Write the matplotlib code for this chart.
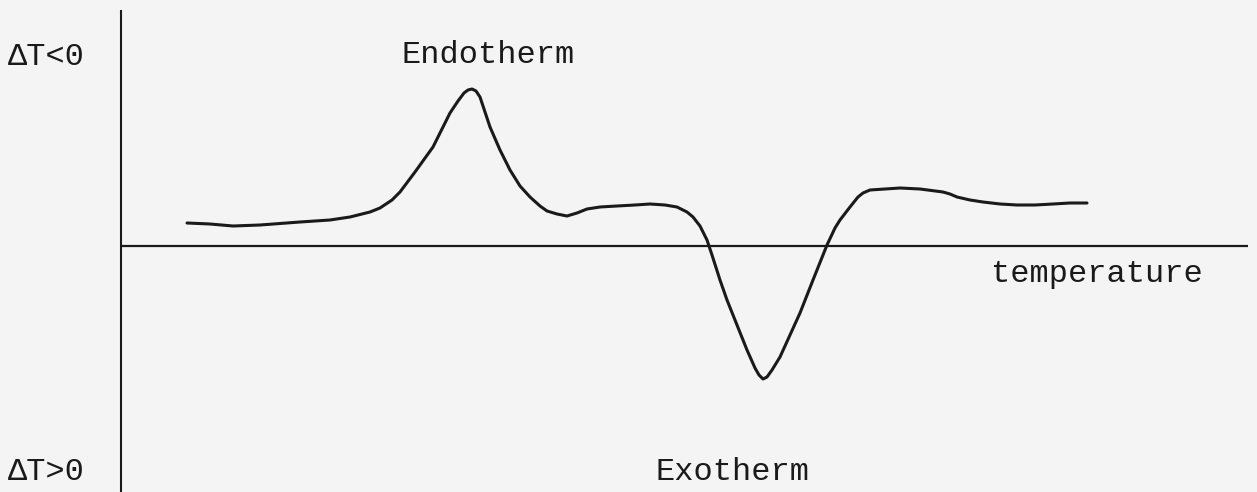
import numpy as np
import matplotlib
matplotlib.use("Agg")
import matplotlib.pyplot as plt

# DTA trace (x: temperature, arbitrary units; y: signal above baseline, endotherm up)
temperature = [187, 210, 233, 260, 300, 330, 350, 370, 380, 392, 400, 415, 433, 450, 458, 464, 468,
               472, 476, 480, 490, 500, 510, 520, 530, 540, 547, 557, 567, 577, 587, 600, 617, 635,
               650, 665, 677, 687, 693, 700, 707, 712, 720, 727, 737, 747, 755, 759, 763, 767,
               772, 780, 790, 800, 813, 827, 835, 840, 850, 858, 863, 870, 885, 900, 920, 943,
               950, 957, 970, 983, 1000, 1017, 1035, 1053, 1070, 1087]
signal = [23, 22, 20, 21, 24, 26, 29, 34, 38, 46, 54, 74, 99, 133, 145, 153, 156,
          157, 155, 149, 119, 96, 76, 60, 49, 40, 35, 32, 30, 33, 37, 39, 40, 41,
          42, 41, 39, 34, 29, 20, 6, -9, -34, -54, -79, -104, -122, -129, -133, -131,
          -124, -111, -89, -67, -34, 1, 18, 26, 39, 49, 53, 56, 57, 58, 57, 54,
          52, 49, 46, 44, 42, 41, 41, 42, 43, 43]

labels = {"top": "ΔT<0", "bottom": "ΔT>0", "endo": "Endotherm", "exo": "Exotherm", "x": "temperature"}

ink = "#1a1a1a"
paper = "#f4f4f4"
font = "Liberation Mono"

fig = plt.figure(figsize=(12.57, 4.92), dpi=100, facecolor=paper)
ax = fig.add_axes([0, 0, 1, 1])
ax.set_facecolor(paper)
ax.set_xlim(0, 1257)
ax.set_ylim(-246, 246)
ax.axis("off")

# axes drawn as in the hand-made figure
ax.plot([121, 121], [236, -246], color=ink, lw=1.5, solid_capstyle="butt")
ax.plot([121, 1248], [0, 0], color=ink, lw=1.6, solid_capstyle="butt")

ax.plot(temperature, signal, color=ink, lw=2.2, solid_joinstyle="round", solid_capstyle="round")

txt = dict(family=font, fontsize=23, color=ink, va="baseline", ha="left")
ax.text(8, 181, labels["top"], **txt)
ax.text(8, -234, labels["bottom"], **txt)
ax.text(401, 183, labels["endo"], **txt)
ax.text(656, -234, labels["exo"], **txt)
ax.text(991, -36, labels["x"], **txt)

fig.savefig("out.png", dpi=100, facecolor=paper)
